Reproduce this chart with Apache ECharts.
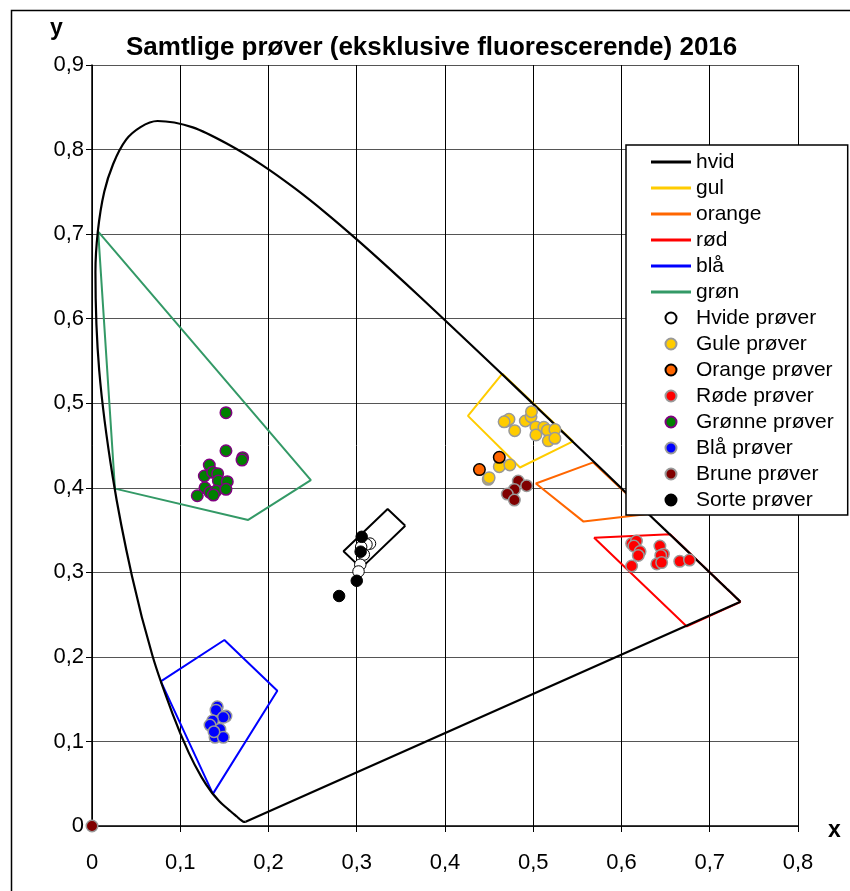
<!DOCTYPE html>
<html>
<head>
<meta charset="utf-8">
<script src="https://cdn.jsdelivr.net/npm/echarts@6/dist/echarts.min.js"></script>
<style>
html,body{margin:0;padding:0;background:#fff;}
#chart{width:850px;height:891px;}
</style>
</head>
<body>
<div id="chart"></div>
<script>
// ---- Tick labels ----
const xTickLabels = ['0','0,1','0,2','0,3','0,4','0,5','0,6','0,7','0,8'];
const yTickLabels = ['0','0,1','0,2','0,3','0,4','0,5','0,6','0,7','0,8','0,9'];

// ---- Spectral locus (CIE 1931, 380..700 nm) ----
const spectralLocus = [
 [0.1741,0.0050],[0.1733,0.0048],[0.1714,0.0051],
 [0.1703,0.0058],[0.1689,0.0069],[0.1669,0.0086],[0.1644,0.0109],[0.1611,0.0138],
 [0.1566,0.0177],[0.1510,0.0227],[0.1440,0.0297],[0.1355,0.0399],[0.1241,0.0578],
 [0.1096,0.0868],[0.0913,0.1327],[0.0687,0.2007],[0.0454,0.2950],[0.0235,0.4127],
 [0.0082,0.5384],[0.0039,0.6548],[0.0139,0.7502],[0.0389,0.8120],[0.0743,0.8338],
 [0.1142,0.8262],[0.1547,0.8059],[0.1929,0.7816],[0.2296,0.7543],[0.2658,0.7243],
 [0.3016,0.6923],[0.3373,0.6589],[0.3731,0.6245],[0.4087,0.5896],[0.4441,0.5547],
 [0.4788,0.5202],[0.5125,0.4866],[0.5448,0.4544],[0.5752,0.4242],[0.6029,0.3965],
 [0.6270,0.3725],[0.6482,0.3514],[0.6658,0.3340],[0.6801,0.3197],[0.6915,0.3083],
 [0.7006,0.2993],[0.7079,0.2920],[0.7140,0.2859],[0.7190,0.2809],[0.7230,0.2770],
 [0.7260,0.2740],[0.7300,0.2700],[0.7334,0.2666],[0.7347,0.2653]
];
// line of purples
const purpleLine = [[0.7347,0.2653],[0.1741,0.0050]];

// ---- Colour boxes (closed polygons) ----
const boxHvid   = [[0.355,0.355],[0.305,0.305],[0.285,0.325],[0.335,0.375],[0.355,0.355]];
const boxGul    = [[0.465,0.535],[0.426,0.485],[0.485,0.424],[0.545,0.455],[0.465,0.535]];
const boxOrange = [[0.568,0.430],[0.503,0.405],[0.557,0.360],[0.630,0.369],[0.568,0.430]];
const boxRod    = [[0.735,0.265],[0.674,0.236],[0.569,0.341],[0.655,0.345],[0.735,0.265]];
const boxBla    = [[0.078,0.171],[0.150,0.220],[0.210,0.160],[0.137,0.038],[0.078,0.171]];
const boxGron   = [[0.007,0.703],[0.248,0.409],[0.177,0.362],[0.026,0.399],[0.007,0.703]];

// ---- Samples ----
const hvideProver = [[0.315,0.334],[0.311,0.333],[0.305,0.330],[0.308,0.321],[0.304,0.309],[0.302,0.301]];
const guleProver = [
 [0.470,0.479],[0.4725,0.481],[0.467,0.478],[0.479,0.4675],[0.491,0.479],[0.4975,0.484],
 [0.498,0.490],[0.503,0.472],[0.512,0.4715],[0.516,0.468],[0.5245,0.469],[0.503,0.4625],
 [0.517,0.4555],[0.5245,0.4585],[0.4615,0.425],[0.4735,0.427],[0.449,0.410],[0.450,0.412]
];
const orangeProver = [[0.4615,0.436],[0.439,0.4215]];
const rodeProver = [
 [0.6115,0.334],[0.617,0.337],[0.614,0.331],[0.621,0.3245],[0.619,0.320],[0.6115,0.3075],
 [0.6435,0.331],[0.6475,0.3215],[0.6445,0.320],[0.640,0.310],[0.6455,0.3115],
 [0.666,0.313],[0.677,0.3145]
];
const gronneProver = [
 [0.1518,0.4888],[0.1518,0.4438],[0.1707,0.4356],[0.170,0.4328],[0.1329,0.4269],
 [0.1273,0.4139],[0.1367,0.4183],[0.1424,0.4167],[0.1432,0.408],[0.1533,0.4072],
 [0.128,0.400],[0.1337,0.3946],[0.1405,0.3962],[0.1518,0.3982],[0.1193,0.3906],[0.1375,0.3914]
];
const blaProver = [
 [0.142,0.141],[0.1405,0.137],[0.1518,0.130],[0.1488,0.1285],[0.1367,0.1245],
 [0.1337,0.1194],[0.145,0.1143],[0.1394,0.1049],[0.1488,0.1049],[0.1382,0.1115]
];
const bruneProver = [[0.483,0.408],[0.4925,0.4025],[0.4786,0.398],[0.4706,0.3926],[0.4786,0.3855],[0,0]];
const sorteProver = [[0.3056,0.342],[0.3044,0.3244],[0.300,0.290],[0.280,0.272]];

const chart = echarts.init(document.getElementById('chart'), null, {renderer:'canvas'});
const FONT = 'Liberation Sans, Arial, sans-serif';
const LINE_ICON = 'path://M0,0L40,0L40,3L0,3Z';

function box(name, data, color){
  return {name, type:'line', data, symbol:'none', showSymbol:false, z:2, clip:false,
    lineStyle:{color, width:2}, itemStyle:{color}, silent:true};
}
function pts(name, data, fill, border, bw){
  return {name, type:'scatter', data, z:4, clip:false, symbol:'circle', symbolSize:11.5,
    itemStyle:{color:fill, borderColor:border, borderWidth:bw, opacity:1}};
}
const lineNames = ['hvid','gul','orange','rød','blå','grøn'];
const pointNames = ['Hvide prøver','Gule prøver','Orange prøver','Røde prøver','Grønne prøver','Blå prøver','Brune prøver','Sorte prøver'];

const option = {
  animation:false,
  backgroundColor:'#fff',
  title:{text:'Samtlige prøver (eksklusive fluorescerende) 2016', left:121, top:30,
    textStyle:{fontFamily:FONT, fontSize:26, fontWeight:'bold', color:'#000'}},
  grid:{left:92, right:52, top:65, bottom:65, containLabel:false},
  xAxis:{type:'value', min:0, max:0.8, interval:0.1,
    axisLine:{show:true, onZero:false, lineStyle:{color:'#000', width:1.5}},
    axisTick:{show:true, length:6, lineStyle:{color:'#000'}},
    axisLabel:{margin:26, fontFamily:FONT, fontSize:22, color:'#000',
      formatter:v=>xTickLabels[Math.round(v*10)]},
    splitLine:{show:true, lineStyle:{color:'#000', width:1}}},
  yAxis:{type:'value', min:0, max:0.9, interval:0.1,
    axisLine:{show:true, onZero:false, lineStyle:{color:'#000', width:1.5}},
    axisTick:{show:true, length:6, lineStyle:{color:'#000'}},
    axisLabel:{margin:8, fontFamily:FONT, fontSize:22, color:'#000',
      formatter:v=>yTickLabels[Math.round(v*10)]},
    splitLine:{show:true, lineStyle:{color:'#555', width:1}}},
  legend:{
    orient:'vertical', left:626, top:145,
    data: lineNames.map(n=>({name:n, icon:LINE_ICON})).concat(pointNames.map(n=>({name:n}))),
    backgroundColor:'#fff', borderColor:'#000', borderWidth:1.5,
    padding:[6,14,4,25], itemGap:4, itemWidth:40, itemHeight:11,
    selectedMode:false,
    textStyle:{fontFamily:FONT, fontSize:21, color:'#000', lineHeight:22}
  },
  graphic:[
    {type:'rect', left:9, top:8, shape:{x:0,y:0,width:860,height:900},
      style:{fill:'none', stroke:'#000', lineWidth:1.5}, silent:true, z:100},
    {type:'text', left:50, top:17, style:{text:'y', font:'bold 23px Liberation Sans, Arial', fill:'#000'}},
    {type:'text', left:828, top:819, style:{text:'x', font:'bold 23px Liberation Sans, Arial', fill:'#000'}}
  ],
  series:[
    box('hvid', boxHvid, '#000000'),
    box('gul', boxGul, '#FFCC00'),
    box('orange', boxOrange, '#FF6600'),
    box('rød', boxRod, '#FF0000'),
    box('blå', boxBla, '#0000FF'),
    box('grøn', boxGron, '#339966'),
    {name:'locus', type:'line', data:spectralLocus, symbol:'none', smooth:0.3, z:3, clip:false,
      lineStyle:{color:'#000', width:2.2}, silent:true},
    {name:'purple', type:'line', data:purpleLine, symbol:'none', z:3, clip:false,
      lineStyle:{color:'#000', width:2.2}, silent:true},
    pts('Hvide prøver', hvideProver, '#FFFFFF', '#000000', 1),
    pts('Gule prøver', guleProver, '#FFCC00', '#999999', 1.5),
    pts('Orange prøver', orangeProver, '#FF6600', '#000000', 1.5),
    pts('Røde prøver', rodeProver, '#FF0000', '#999999', 1.5),
    pts('Grønne prøver', gronneProver, '#008000', '#800080', 1.5),
    pts('Blå prøver', blaProver, '#0000FF', '#999999', 1.5),
    pts('Brune prøver', bruneProver, '#800000', '#999999', 1.5),
    pts('Sorte prøver', sorteProver, '#000000', '#000000', 1)
  ]
};
chart.setOption(option);
</script>
</body>
</html>
